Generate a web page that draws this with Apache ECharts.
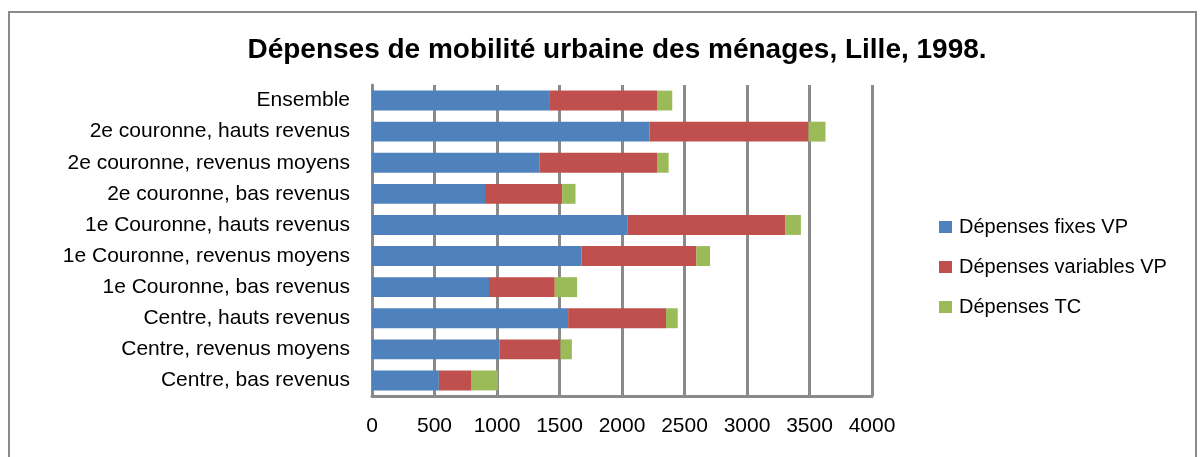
<!DOCTYPE html>
<html><head><meta charset="utf-8">
<script src="https://cdn.jsdelivr.net/npm/echarts@6/dist/echarts.min.js"></script>
<style>html,body{margin:0;padding:0;background:#fff}#c{width:1202px;height:457px}</style>
</head><body><div id="c"></div>
<script>
const categories = ["Ensemble","2e couronne, hauts revenus","2e couronne, revenus moyens","2e couronne, bas revenus","1e Couronne, hauts revenus","1e Couronne, revenus moyens","1e Couronne, bas revenus","Centre, hauts revenus","Centre, revenus moyens","Centre, bas revenus"];
const fixesVP = [1417,2221,1342,904,2042,1676,936,1569,1022,535];
const variablesVP = [863,1271,938,617,1266,919,526,783,486,257];
const depensesTC = [122,136,93,107,123,109,179,94,91,216];
const xTicks = [0,500,1000,1500,2000,2500,3000,3500,4000];
const seriesNames = ["Dépenses fixes VP","Dépenses variables VP","Dépenses TC"];

const font = "'Liberation Sans', Arial, sans-serif";
const chart = echarts.init(document.getElementById('c'));
chart.setOption({
  animation:false,
  color:['#4F81BD','#C0504D','#9BBB59'],
  title:{text:'Dépenses de mobilité urbaine des ménages, Lille, 1998.',left:612,textAlign:'center',top:31,
    textStyle:{fontFamily:font,fontWeight:'bold',fontSize:28,color:'#000'}},
  graphic:[{type:'rect',shape:{x:9,y:12,width:1187,height:460},style:{fill:'none',stroke:'#8a8a8a',lineWidth:2},silent:true}],
  legend:{orient:'vertical',left:939,top:217,padding:0,itemWidth:13,itemHeight:12,itemGap:20,icon:'rect',
    textStyle:{fontFamily:font,fontSize:20,color:'#000',padding:[0,0,0,2]},data:seriesNames},
  grid:{left:372,right:330,top:85,bottom:61,containLabel:false},
  xAxis:{type:'value',min:xTicks[0],max:xTicks[xTicks.length-1],interval:500,
    axisLine:{show:true,lineStyle:{color:'#8a8a8a',width:3}},axisTick:{show:false},
    axisLabel:{fontFamily:font,fontSize:21,color:'#000',margin:20,formatter:v=>String(v)},
    splitLine:{show:true,lineStyle:{color:'#8a8a8a',width:3}}},
  yAxis:{type:'category',inverse:true,data:categories,
    axisLine:{show:true,lineStyle:{color:'#8a8a8a',width:3}},axisTick:{show:false},
    axisLabel:{fontFamily:font,fontSize:21,color:'#000',margin:22}},
  series:[
    {name:seriesNames[0],type:'bar',stack:'t',data:fixesVP,barWidth:'64%'},
    {name:seriesNames[1],type:'bar',stack:'t',data:variablesVP,barWidth:'64%'},
    {name:seriesNames[2],type:'bar',stack:'t',data:depensesTC,barWidth:'64%'}
  ]
});
</script></body></html>
